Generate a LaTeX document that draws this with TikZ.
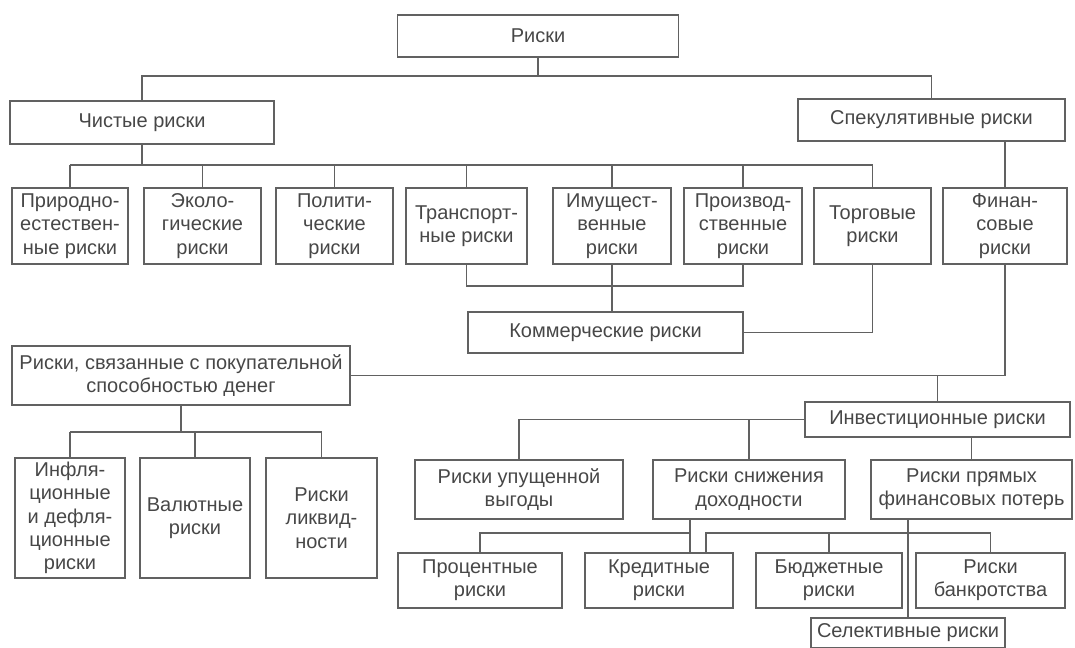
\documentclass[tikz,border=0pt]{standalone}
\usepackage{fontspec}
\setmainfont{Liberation Sans}
\definecolor{ink}{gray}{0.28}
\definecolor{wire}{gray}{0.38}

\begin{document}
\begin{tikzpicture}[x=0.75pt,y=-0.75pt,
  rbox/.style={draw=wire, line width=1.3pt, align=center, inner sep=2pt, text=ink,
    font=\fontsize{15}{17.5}\selectfont},
  link/.style={draw=wire, line width=1.3pt}]
  \useasboundingbox (0,0) rectangle (1075,648);

  % top level
  \node[rbox, minimum width=210.75pt, minimum height=31.5pt] (risks) at (538,36) {Риски};
  \node[rbox, minimum width=198pt, minimum height=32.25pt] (pure) at (142,122.5) {Чистые риски};
  \node[rbox, minimum width=200.25pt, minimum height=31.5pt] (spec) at (931.5,120) {Спекулятивные риски};

  \coordinate (bus1) at (538,76);
  \draw[link] (risks.south) -- (bus1);
  \draw[link] (pure.north) |- (bus1) -| (spec.north);

  % kinds of pure risks
  \node[rbox, minimum width=87pt, minimum height=57pt] (nat) at (70,226) {Природно-\\естествен-\\ные риски};
  \node[rbox, minimum width=87.75pt, minimum height=57pt] (eco) at (202.5,226) {Эколо-\\гические\\риски};
  \node[rbox, minimum width=87.75pt, minimum height=57pt] (pol) at (334.5,226) {Полити-\\ческие\\риски};
  \node[rbox, minimum width=90.75pt, minimum height=57pt] (trans) at (466.5,226) {Транспорт-\\ные риски};
  \node[rbox, minimum width=88.5pt, minimum height=57pt] (prop) at (612,226) {Имущест-\\венные\\риски};
  \node[rbox, minimum width=88.5pt, minimum height=57pt] (prod) at (743,226) {Производ-\\ственные\\риски};
  \node[rbox, minimum width=87.75pt, minimum height=57pt] (trade) at (872.5,226) {Торговые\\риски};
  \node[rbox, minimum width=93pt, minimum height=57pt] (fin) at (1005,226) {Финан-\\совые\\риски};

  \coordinate (bus2) at (142,165);
  \draw[link] (pure.south) -- (bus2);
  \draw[link] (nat.north |- bus2) -- (trade.north |- bus2);
  \foreach \n in {nat,eco,pol,trans,prop,prod,trade}
    \draw[link] (\n.north) -- (\n.north |- bus2);
  \draw[link] (fin.north) -- (fin.north |- spec.south);

  % commercial risks
  \node[rbox, minimum width=206.25pt, minimum height=30.75pt] (comm) at (605.5,332.5) {Коммерческие риски};
  \coordinate (bus3) at (0,286);
  \draw[link] (trans.south) |- (bus3 -| prod.south) -- (prod.south);
  \draw[link] (prop.south) -- (prop.south |- comm.north);
  \draw[link] (trade.south) |- (comm.east);

  % purchasing power and investment
  \node[rbox, minimum width=253.5pt, minimum height=44.25pt] (purch) at (181,375.5) {Риски, связанные с покупательной\\способностью денег};
  \node[rbox, minimum width=198.75pt, minimum height=26.25pt] (invest) at (937.5,419.5) {Инвестиционные риски};
  \draw[link] (fin.south) |- (purch.east);
  \draw[link] (invest.north) -- (invest.north |- purch.east);

  \node[rbox, minimum width=82.5pt, minimum height=90pt] (infl) at (70,518) {Инфля-\\ционные\\и дефля-\\ционные\\риски};
  \node[rbox, minimum width=82.5pt, minimum height=90pt] (curr) at (195,518) {Валютные\\риски};
  \node[rbox, minimum width=83.25pt, minimum height=90pt] (liq) at (321.5,518) {Риски\\ликвид-\\ности};

  \coordinate (bus4) at (181,432);
  \draw[link] (purch.south) -- (bus4);
  \draw[link] (infl.north |- bus4) -- (liq.north |- bus4);
  \foreach \n in {infl,curr,liq}
    \draw[link] (\n.north) -- (\n.north |- bus4);

  % investment risks
  \node[rbox, minimum width=156pt, minimum height=44.25pt] (lost) at (519,489.5) {Риски упущенной\\выгоды};
  \node[rbox, minimum width=144pt, minimum height=44.25pt] (decl) at (749,489.5) {Риски снижения\\доходности};
  \node[rbox, minimum width=150.75pt, minimum height=44.25pt] (loss) at (971.5,489.5) {Риски прямых\\финансовых потерь};

  \draw[link] (invest.west) -| (lost.north);
  \draw[link] (decl.north) -- (decl.north |- invest.west);
  \draw[link] (loss.north) -- (loss.north |- invest.south);

  \node[rbox, minimum width=123pt, minimum height=41.25pt] (pct) at (480,580.5) {Процентные\\риски};
  \node[rbox, minimum width=111pt, minimum height=41.25pt] (cred) at (659,580.5) {Кредитные\\риски};
  \node[rbox, minimum width=109.5pt, minimum height=41.25pt] (budg) at (829,580.5) {Бюджетные\\риски};
  \node[rbox, minimum width=111.75pt, minimum height=41.25pt] (bankr) at (990.5,580.5) {Риски\\банкротства};
  \node[rbox, minimum width=145.5pt, minimum height=22.5pt] (sel) at (908,633) {Селективные риски};

  \coordinate (bus5) at (0,533);
  \draw[link] ([xshift=-44.25pt]decl.south) -- ([xshift=-44.25pt]decl.south |- cred.north);
  \draw[link] (pct.north) |- ([xshift=-44.25pt]decl.south |- bus5);
  \draw[link] ([xshift=35.25pt]cred.north) |- (bus5 -| bankr.north) -- (bankr.north);
  \draw[link] (budg.north) -- (budg.north |- bus5);
  \draw[link] (sel.north) -- (sel.north |- loss.south);
\end{tikzpicture}
\end{document}
